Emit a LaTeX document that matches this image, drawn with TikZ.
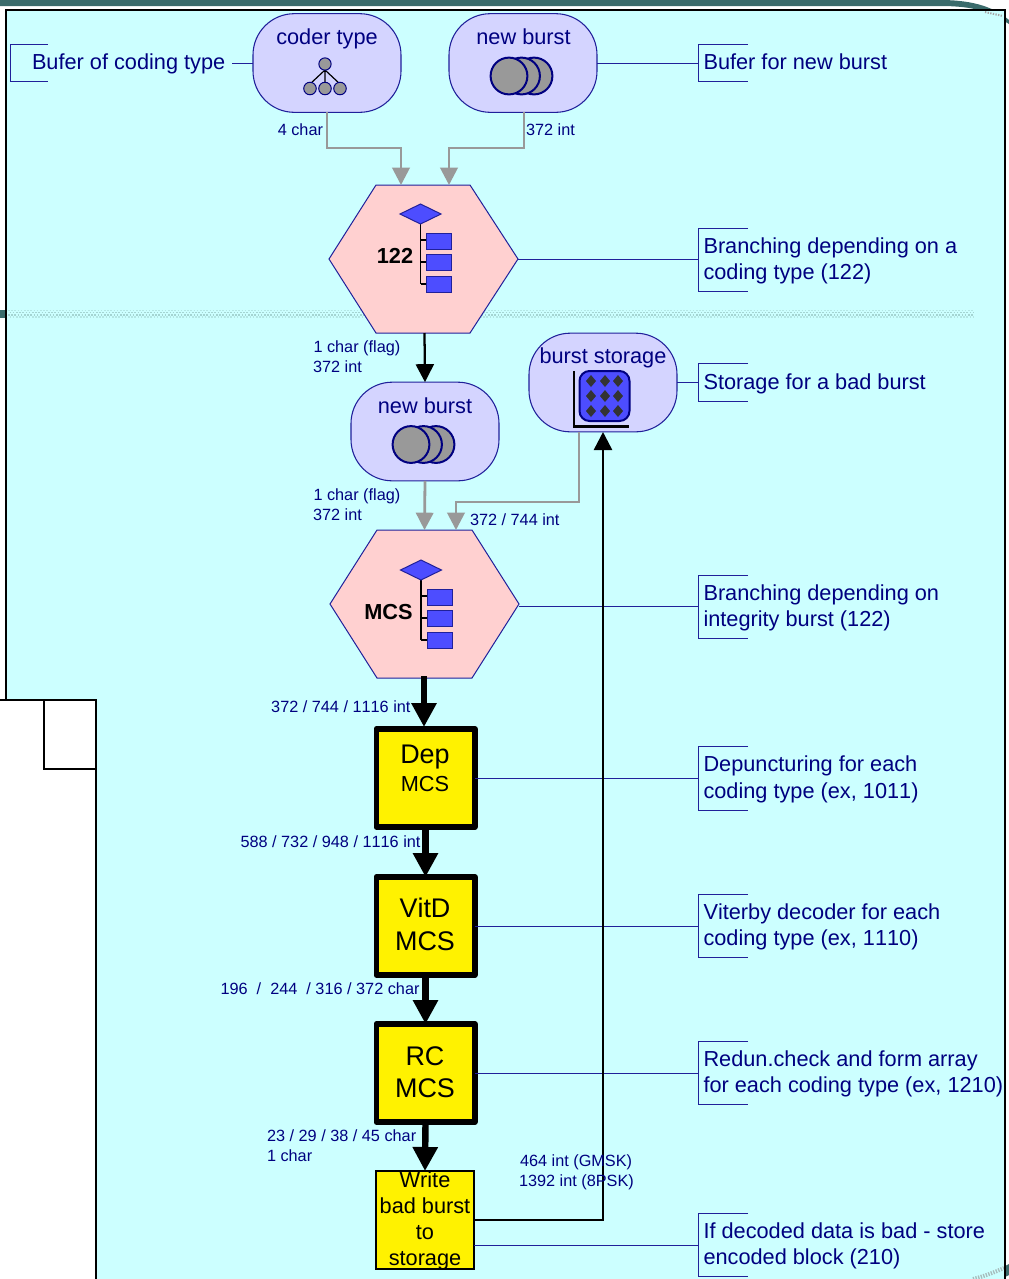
\documentclass[tikz,border=0pt]{standalone}
\usepackage{fontspec}
\setmainfont[Kerning=Off]{Liberation Sans}
\usetikzlibrary{arrows.meta,calc}
\definecolor{cyanbg}{HTML}{CCFFFF}
\definecolor{lav}{HTML}{D4D4FF}
\definecolor{pinkhex}{HTML}{FFD0D0}
\definecolor{navy}{HTML}{000080}
\definecolor{navyline}{HTML}{20209A}
\definecolor{greyarrow}{HTML}{999999}
\definecolor{iconblue}{HTML}{4D4DFF}
\definecolor{teal}{HTML}{3A6B6B}
\definecolor{dotband}{HTML}{A4D4D2}
\definecolor{dotbandlight}{HTML}{B4E6E4}
\definecolor{diam}{HTML}{333333}
\newcommand\fbig{\fontsize{16.3pt}{19.6pt}\selectfont}
\newcommand\fsmall{\fontsize{12.2pt}{15pt}\selectfont}
\newcommand\fhuge{\fontsize{20.2pt}{24.6pt}\selectfont}
\tikzset{
  store/.style={draw=navyline,fill=lav,line width=.8pt,rounded corners=31pt,minimum width=111pt,minimum height=74pt,inner sep=0pt,outer sep=0pt},
  hexspace/.style={minimum width=141.5pt,minimum height=111pt,inner sep=0pt,outer sep=0pt},
  hexline/.style={draw=navyline,fill=pinkhex,line width=.75pt,line join=miter},
  boxthick/.style={draw=black,fill=yellow,line width=4pt,line join=round,minimum width=74pt,minimum height=73.5pt,inner sep=0pt,outer sep=0pt},
  boxthin/.style={draw=black,fill=yellow,line width=1.5pt,minimum width=73.5pt,minimum height=73.5pt,inner sep=0pt,outer sep=0pt},
  big/.style={text=navy,font=\fbig,inner sep=0pt,outer sep=0pt,align=left},
  small/.style={text=navy,font=\fsmall,inner sep=0pt,outer sep=0pt,align=left},
  inbox/.style={text=black,inner sep=0pt,outer sep=0pt,align=center},
  leader/.style={draw=navyline,line width=.75pt},
  greyflow/.style={draw=greyarrow,line width=2.1pt,-{Triangle[length=13pt,width=13pt,fill=greyarrow]}},
  blackflow/.style={draw=black,line width=1.7pt,-{Triangle[length=13.5pt,width=13.5pt,fill=black]}},
  heavyflow/.style={draw=black,line width=4.8pt,-{Triangle[length=18pt,width=18pt,fill=black]}},
  burstdisc/.style={draw=navy,fill=greyarrow,line width=1.5pt},
  iconbox/.style={draw=navyline,fill=iconblue,line width=.75pt},
  bandrow/.style={line width=1.2pt,dash pattern=on 1.2pt off 1.2pt},
  branchpic/.pic={
    \draw[black,line width=1.3pt] (0,20)--(0,80) (0,36)--(6,36) (0,58)--(6,58) (0,80)--(6,80);
    \draw[iconbox] (-20.5,10)--(0,0)--(20.5,10)--(0,20)--cycle;
    \draw[iconbox] (6,29) rectangle (31,45);
    \draw[iconbox] (6,50) rectangle (31,66);
    \draw[iconbox] (6,72) rectangle (31,88);
  },
  burstpic/.pic={
    \draw[burstdisc] (25,0) circle[radius=13.8pt];
    \draw[burstdisc] (12.5,0) circle[radius=13.8pt];
    \draw[burstdisc] (0,0) circle[radius=13.8pt];
  }
}
\newcommand\bracket[4]{% x-open, y-top, y-bottom, x-closed
  \draw[leader] (#1,#2)--(#4,#2)--(#4,#3)--(#1,#3);}
\begin{document}
\begin{tikzpicture}[x=.75pt,y=-.75pt]
\useasboundingbox (0,0) rectangle (1009,1279);
\clip (0,0) rectangle (1009,1279);
% slide background
\fill[white] (0,0) rectangle (1009,1279);
\fill[teal] (0,0)--(940,0) .. controls (975,0) and (995,8) .. (1009,20)--(1009,24) .. controls (990,12) and (975,6) .. (940,6)--(0,6)--cycle;
\fill[teal] (0,310) rectangle (6,318);
\fill[teal] (1005,1266)--(1009,1264)--(1009,1275)--(1005,1277)--cycle;
\fill[cyanbg] (6,10) rectangle (1005,1279);
\draw[dotbandlight,bandrow] (8,310.5)--(973,310.5);
\draw[dotband,bandrow] (9.6,312.6)--(973,312.6);
\draw[dotband,bandrow] (8,314.7)--(973,314.7);
\draw[dotbandlight,bandrow] (9.6,316.8)--(973,316.8);
\draw[black!35,line width=1.5pt,dash pattern=on 1pt off 1pt] (985,12)--(1003,16);
\draw[teal!45,line width=3pt,dash pattern=on 1pt off 1pt] (973,1279) .. controls (985,1276) and (995,1272) .. (1004,1268);
\draw[black,line width=1.6pt] (6,700)--(6,10)--(1005,10)--(1005,1279);
% lower-left panel
\fill[white] (0,700) rectangle (96,1279);
\draw[black,line width=1.6pt] (0,700)--(96,700)--(96,1279);
\draw[black,line width=1.6pt] (44,700) rectangle (96,769);
% hexagons
\draw[hexline] (329,259)--(376,185)--(470,185)--(518,259)--(470,333)--(376,333)--cycle;
\draw[hexline] (330,604)--(377,530)--(472,530)--(519,604)--(472,678)--(377,678)--cycle;
\node[hexspace] (hexA) at (423.5,259) {};
\node[hexspace] (hexB) at (424.5,604) {};
% stores
\node[store] (coder) at (327,63) {};
\node[store] (burstA) at (523,63) {};
\node[store] (burstB) at (425,431.5) {};
\node[store] (bstore) at (603,382.5) {};
% process boxes
\node[boxthick] (dep) at (425.5,778) {};
\node[boxthick] (vit) at (425.5,926) {};
\node[boxthick] (rc) at (425.5,1073) {};
\node[boxthin] (wr) at (425,1220) {};
% anchors for free connector ends
\coordinate (coderdrop) at (327,112);
\coordinate (burstdrop) at (524,112);
\coordinate (inA1) at (401,185);
\coordinate (inA2) at (449,185);
\coordinate (storeout) at (579,432);
\coordinate (inB2) at (456,530);
\coordinate (storein) at (603,432);
\coordinate (wrout) at (474,1220);
\coordinate (brNew) at (698,63);
\coordinate (brCoder) at (232,63);
\coordinate (brHexA) at (698,259);
\coordinate (brStore) at (698,382.5);
\coordinate (brHexB) at (698,606);
\coordinate (brDep) at (698,778);
\coordinate (brVit) at (698,926);
\coordinate (brRc) at (698,1073);
\coordinate (brWr) at (698,1245);
\coordinate (wrleader) at (474,1245);
\coordinate (hexBleader) at (519,606);
% brackets and leaders
\bracket{48}{44}{81}{10}
\bracket{748}{44}{81}{698}
\bracket{748}{228}{291}{698}
\bracket{748}{363}{401}{698}
\bracket{748}{575}{638}{698}
\bracket{748}{746}{810}{698}
\bracket{748}{894}{957}{698}
\bracket{748}{1041}{1104}{698}
\bracket{748}{1213}{1276}{698}
\draw[leader] (brCoder)--(coder.west);
\draw[leader] (burstA.east)--(brNew);
\draw[leader] (hexA.east)--(brHexA);
\draw[leader] (bstore.east)--(brStore);
\draw[leader] (hexBleader)--(brHexB);
\draw[leader] (dep.east)--(brDep);
\draw[leader] (vit.east)--(brVit);
\draw[leader] (rc.east)--(brRc);
\draw[leader] (wrleader)--(brWr);
% flows
\draw[greyflow] (coderdrop)--(327,148)--(401,148)--(inA1);
\draw[greyflow] (burstdrop)--(524,148)--(449,148)--(inA2);
\draw[blackflow] (hexA.south)++(1,0)--(burstB.north);
\draw[greyflow] (burstB.south)--(hexB.north);
\draw[greyflow] (storeout)--(579,502)--(456,502)--(inB2);
\draw[heavyflow] (424,676)--(424,727);
\draw[heavyflow] (dep.south)--(vit.north);
\draw[heavyflow] (vit.south)--(rc.north);
\draw[heavyflow] (rc.south)--(wr.north);
\draw[blackflow,line width=1.9pt] (wrout)--(603,1220)--(storein);
% icons
\draw[black,line width=.9pt] (325,70)--(310,84) (325,70)--(325,84) (325,70)--(340,84);
\draw[navy,fill=greyarrow,line width=.75pt] (325,64) circle[radius=4.6pt];
\draw[navy,fill=greyarrow,line width=.75pt] (310,88.5) circle[radius=4.7pt];
\draw[navy,fill=greyarrow,line width=.75pt] (325,88.5) circle[radius=4.7pt];
\draw[navy,fill=greyarrow,line width=.75pt] (340,88.5) circle[radius=4.7pt];
\pic at (509,76) {burstpic};
\pic at (411,444.5) {burstpic};
\pic at (420.5,204) {branchpic};
\pic at (421,560) {branchpic};
\draw[black,line width=1.6pt] (574,371)--(574,426.5)--(629,426.5);
\draw[navy,fill=iconblue,line width=1.5pt,rounded corners=7.5pt] (579.5,371) rectangle (629.5,421);
\foreach \dx in {591,605,618} \foreach \dy in {381,396,411}
  \fill[diam] (\dx-5,\dy)--(\dx,\dy-6)--(\dx+5,\dy)--(\dx,\dy+6)--cycle;
% store titles
\node[big,anchor=base] (tCoder) at (327,44) {coder type};
\node[big,anchor=base] (tBurstA) at (523.5,44) {new burst};
\node[big,anchor=base] (tBurstB) at (425,413) {new burst};
\node[big,anchor=base] (tStore) at (603,363) {burst storage};
% hex titles
\node[inbox,anchor=base,font=\fbig\bfseries] (tHexA) at (395,263) {122};
\node[inbox,anchor=base,font=\fbig\bfseries] (tHexB) at (388.5,619) {MCS};
% box titles
\node[inbox,anchor=base,font=\fhuge] (tDep) at (425,763) {Dep};
\node[inbox,anchor=base,font=\fbig] (tDepM) at (425,791) {MCS};
\node[inbox,anchor=base,font=\fhuge] (tVit) at (425,917) {VitD};
\node[inbox,anchor=base,font=\fhuge] (tVitM) at (425,950) {MCS};
\node[inbox,anchor=base,font=\fhuge] (tRc) at (425,1065) {RC};
\node[inbox,anchor=base,font=\fhuge] (tRcM) at (425,1097) {MCS};
\node[inbox,anchor=base,font=\fbig] (tW1) at (425,1187) {Write};
\node[inbox,anchor=base,font=\fbig] (tW2) at (425,1213) {bad burst};
\node[inbox,anchor=base,font=\fbig] (tW3) at (425,1239) {to};
\node[inbox,anchor=base,font=\fbig] (tW4) at (425,1265) {storage};
% annotations
\node[big,anchor=base west] (aCoder) at (32,69) {Bufer of coding type};
\node[big,anchor=base west] (aNew) at (703.5,69) {Bufer for new burst};
\node[big,anchor=base west] (aHexA1) at (703.5,253) {Branching depending on a};
\node[big,anchor=base west] (aHexA2) at (703.5,279) {coding type (122)};
\node[big,anchor=base west] (aStore) at (703.5,389) {Storage for a bad burst};
\node[big,anchor=base west] (aHexB1) at (703.5,600) {Branching depending on};
\node[big,anchor=base west] (aHexB2) at (703.5,626) {integrity burst (122)};
\node[big,anchor=base west] (aDep1) at (703.5,771) {Depuncturing for each};
\node[big,anchor=base west] (aDep2) at (703.5,798) {coding type (ex, 1011)};
\node[big,anchor=base west] (aVit1) at (703.5,919) {Viterby decoder for each};
\node[big,anchor=base west] (aVit2) at (703.5,945) {coding type (ex, 1110)};
\node[big,anchor=base west] (aRc1) at (703.5,1066) {Redun.check and form array};
\node[big,anchor=base west] (aRc2) at (703.5,1092) {for each coding type (ex, 1210)};
\node[big,anchor=base west] (aWr1) at (703.5,1238) {If decoded data is bad - store};
\node[big,anchor=base west] (aWr2) at (703.5,1264) {encoded block (210)};
% flow labels
\node[small,anchor=base east] (f1) at (323,135) {4 char};
\node[small,anchor=base west] (f2) at (526,135) {372 int};
\node[small,anchor=base west] (f3) at (313.5,352) {1 char (flag)};
\node[small,anchor=base west] (f4) at (313,372) {372 int};
\node[small,anchor=base west] (f5) at (313.5,500) {1 char (flag)};
\node[small,anchor=base west] (f6) at (313,520) {372 int};
\node[small,anchor=base west] (f7) at (470,525) {372 / 744 int};
\node[small,anchor=base east] (f8) at (410.5,712) {372 / 744 / 1116 int};
\node[small,anchor=base east] (f9) at (420.5,847) {588 / 732 / 948 / 1116 int};
\node[small,anchor=base east] (f10) at (419.5,994) {196\ \ /\ \ 244\ \ / 316 / 372 char};
\node[small,anchor=base west] (f11) at (267,1141) {23 / 29 / 38 / 45 char};
\node[small,anchor=base west] (f12) at (267,1161) {1 char};
\node[small,anchor=base west] (f13) at (520,1166) {464 int (GMSK)};
\node[small,anchor=base west] (f14) at (519,1186) {1392 int (8PSK)};
\end{tikzpicture}
\end{document}
